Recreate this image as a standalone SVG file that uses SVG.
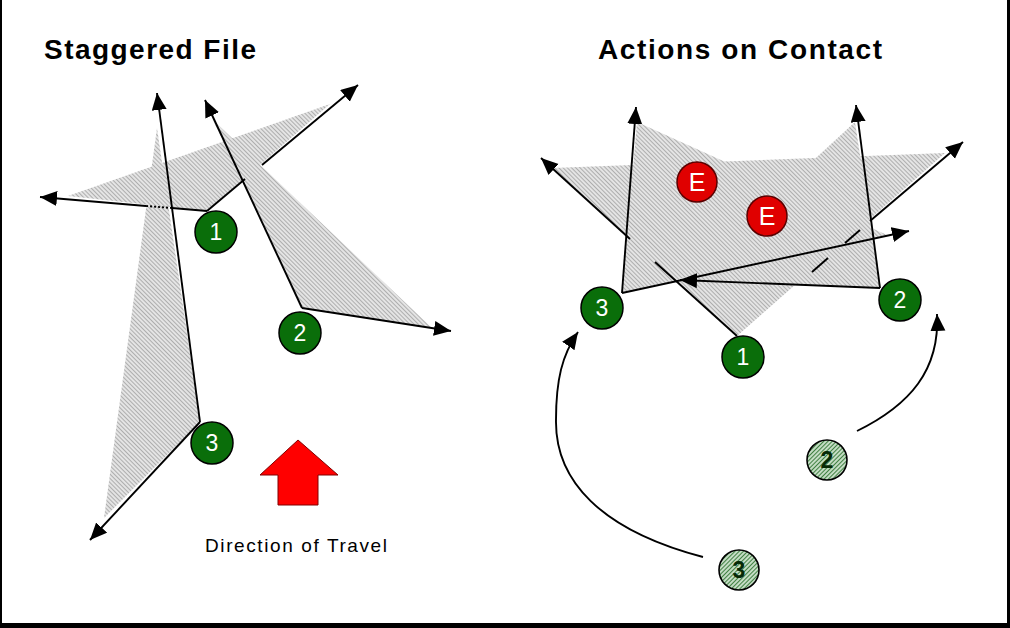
<svg xmlns="http://www.w3.org/2000/svg" width="1010" height="628" viewBox="0 0 1010 628">
<defs>
<pattern id="hatch" patternUnits="userSpaceOnUse" width="3" height="3" patternTransform="rotate(-45)">
<rect width="3" height="3" fill="#e4e4e4"/>
<line x1="0" y1="0" x2="0" y2="3" stroke="#8a8a8a" stroke-width="1.2"/>
</pattern>
<pattern id="ghost" patternUnits="userSpaceOnUse" width="3" height="3" patternTransform="rotate(45)">
<rect width="3" height="3" fill="#c4dcc4"/>
<line x1="0" y1="0" x2="0" y2="3" stroke="#1f6a22" stroke-width="1.6"/>
</pattern>
<marker id="ah" markerUnits="userSpaceOnUse" markerWidth="18" markerHeight="16" refX="17" refY="7.5" orient="auto">
<path d="M0,0 L17,7.5 L0,15 Z" fill="#000"/>
</marker>
<style>
.shade{fill:url(#hatch);stroke:none}
.ln{fill:none;stroke:#000;stroke-width:1.9}
.arr{fill:none;stroke:#000;stroke-width:1.9;marker-end:url(#ah)}
.sol{fill:#0a6e0a;stroke:#000;stroke-width:1.5}
.ene{fill:#e00000;stroke:#5a0000;stroke-width:1.5}
.gh{fill:url(#ghost);stroke:#000;stroke-width:1.6}
.num{font-family:"Liberation Sans",Arial,sans-serif;font-size:23px;fill:#fff;text-anchor:middle}
.enum{font-family:"Liberation Sans",Arial,sans-serif;font-size:25px;fill:#fff;text-anchor:middle}
.gnum{font-family:"Liberation Sans",Arial,sans-serif;font-size:23px;font-weight:bold;fill:#062a06;text-anchor:middle}
.title{font-family:"Liberation Sans",Arial,sans-serif;font-size:28px;font-weight:bold;fill:#000}
.lbl{font-family:"Liberation Sans",Arial,sans-serif;font-size:19px;fill:#000}
</style>
</defs>
<rect x="0" y="0" width="1010" height="628" fill="#000"/>
<rect x="2" y="0" width="1005" height="623" fill="#fff"/>

<text class="title" x="44" y="59" textLength="212" lengthAdjust="spacing">Staggered File</text>
<text class="title" x="598" y="59" textLength="284" lengthAdjust="spacing">Actions on Contact</text>

<g id="shading">
<polygon class="shade" points="207,211 68,196 330,104"/>
<polygon class="shade" points="200,422 157,128 104,518"/>
<polygon class="shade" points="302,308 213,120 432,328"/>
<polygon class="shade" points="737,336 553,168 945,153"/>
<polygon class="shade" points="622,293 637,122 887,235"/>
<polygon class="shade" points="880,288 855,122 683,280"/>
</g>

<g id="connectors">
<line class="ln" x1="207" y1="211" x2="172" y2="208"/>
<line class="ln" x1="172" y1="208" x2="146" y2="206" stroke-dasharray="2,2"/>
<line class="arr" x1="146" y1="206" x2="40" y2="197"/>
<line class="ln" x1="207" y1="211" x2="245" y2="179"/>
<line class="arr" x1="262" y1="165" x2="358" y2="85"/>
<line class="arr" x1="200" y1="422" x2="157" y2="93"/>
<line class="arr" x1="200" y1="422" x2="90" y2="540"/>
<line class="arr" x1="302" y1="308" x2="205" y2="100"/>
<line class="arr" x1="302" y1="308" x2="451" y2="331"/>
<line class="arr" x1="622" y1="293" x2="636" y2="107"/>
<line class="arr" x1="622" y1="293" x2="909" y2="231"/>
<line class="arr" x1="880" y1="288" x2="856" y2="105"/>
<line class="arr" x1="880" y1="288" x2="680" y2="280"/>
<line class="ln" x1="737" y1="336" x2="655" y2="262"/>
<line class="arr" x1="630" y1="239" x2="541" y2="158"/>
<line class="ln" x1="812" y1="272" x2="828" y2="258"/>
<line class="ln" x1="845" y1="243" x2="860" y2="230"/>
<line class="arr" x1="870" y1="221" x2="963" y2="142"/>
<path class="arr" d="M703,557 C600,530 555,480 556,420 C556,380 562,355 578,332"/>
<path class="arr" d="M857,431 C910,405 940,370 937,314"/>
</g>

<g id="s1-left"><circle class="sol" cx="216" cy="232" r="21"/><text class="num" x="216" y="240">1</text></g>
<g id="s2-left"><circle class="sol" cx="300" cy="333" r="21"/><text class="num" x="300" y="341">2</text></g>
<g id="s3-left"><circle class="sol" cx="212" cy="443" r="21"/><text class="num" x="212" y="451">3</text></g>

<g id="direction">
<polygon points="298,440 338,475 318,475 318,505 278,505 278,475 260,475" fill="#ff0000" stroke="#800000" stroke-width="1"/>
<text class="lbl" x="205" y="552" textLength="182" lengthAdjust="spacing">Direction of Travel</text>
</g>

<g id="e1"><circle class="ene" cx="697" cy="182" r="20"/><text class="enum" x="697" y="191">E</text></g>
<g id="e2"><circle class="ene" cx="767" cy="216" r="20"/><text class="enum" x="767" y="225">E</text></g>
<g id="s1-right"><circle class="sol" cx="743" cy="357" r="21"/><text class="num" x="743" y="365">1</text></g>
<g id="s2-right"><circle class="sol" cx="900" cy="300" r="21"/><text class="num" x="900" y="308">2</text></g>
<g id="s3-right"><circle class="sol" cx="602" cy="308" r="21"/><text class="num" x="602" y="316">3</text></g>
<g id="g2"><circle class="gh" cx="827" cy="460" r="20"/><text class="gnum" x="827" y="468">2</text></g>
<g id="g3"><circle class="gh" cx="739" cy="570" r="20"/><text class="gnum" x="739" y="578">3</text></g>
</svg>
